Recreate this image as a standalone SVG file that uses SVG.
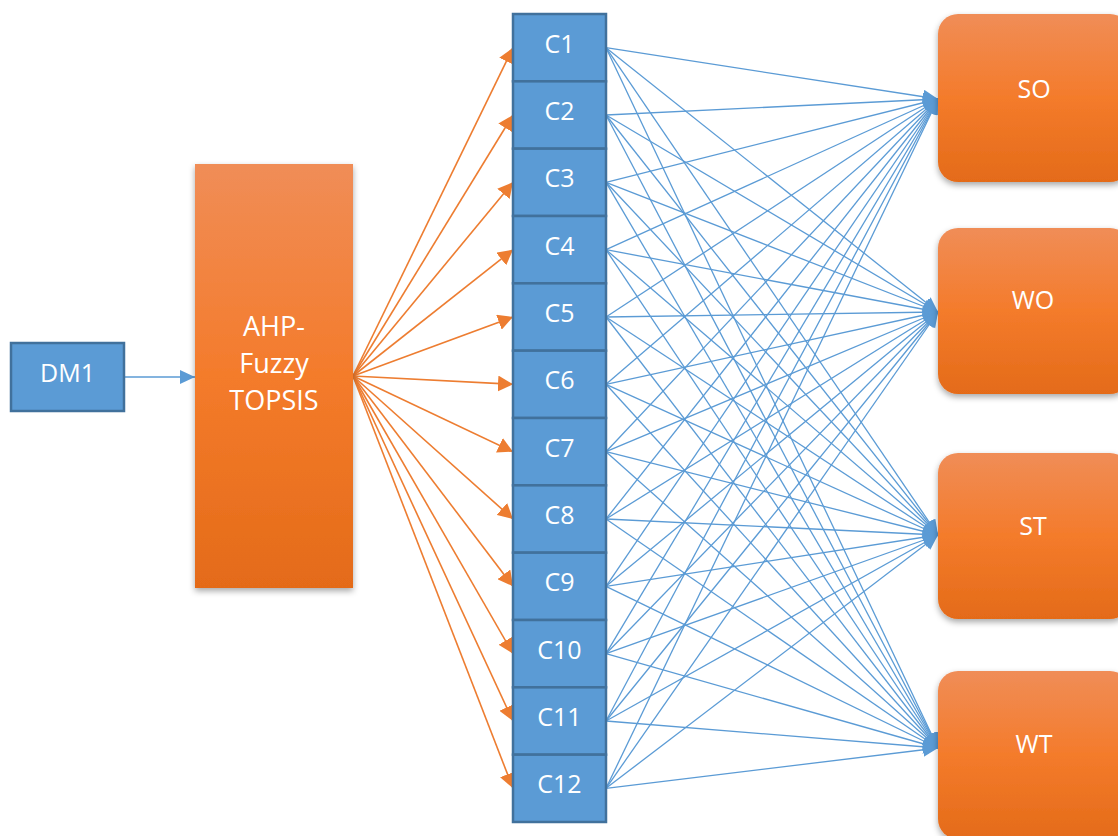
<svg xmlns="http://www.w3.org/2000/svg" width="1118" height="836" viewBox="0 0 1118 836">
  <style>
    .lbl { font-family: "Open Sans", "Liberation Sans", sans-serif; fill: #ffffff; text-anchor: middle; }
    .c24 { font-size: 25px; }
    .c25 { font-size: 27px; }
    .cell { fill: #5B9BD5; stroke: #41719C; stroke-width: 2.5; }
    .dm { fill: #5B9BD5; stroke: #41719C; stroke-width: 2.5; }
    .org { stroke: #ED7D31; stroke-width: 1.6; fill: none; marker-end: url(#headOrange); }
    .blu { stroke: #5B9BD5; stroke-width: 1.3; fill: none; marker-end: url(#headBlue); }
  </style>
  <defs>
    <linearGradient id="gradOrange" x1="0" y1="0" x2="0" y2="1">
      <stop offset="0" stop-color="#F08D57"/>
      <stop offset="0.5" stop-color="#F47B2B"/>
      <stop offset="1" stop-color="#E46B19"/>
    </linearGradient>
    <filter id="shadow" x="-20%" y="-20%" width="140%" height="140%">
      <feDropShadow dx="0" dy="3" stdDeviation="3" flood-color="#000000" flood-opacity="0.35"/>
    </filter>
    <marker id="headOrange" markerUnits="userSpaceOnUse" markerWidth="16" markerHeight="16" refX="15" refY="8" orient="auto">
      <path d="M0,0 L15,8 L0,16 Z" fill="#ED7D31"/>
    </marker>
    <marker id="headBlue" markerUnits="userSpaceOnUse" markerWidth="16" markerHeight="16" refX="15" refY="7" orient="auto">
      <path d="M0,0 L15,7 L0,14 Z" fill="#5B9BD5"/>
    </marker>
  </defs>

  <rect width="1118" height="836" fill="#ffffff"/>

  <!-- connectors -->
  <g id="connectors">
    <line class="blu" x1="124" y1="377" x2="195" y2="377"/>

    <!-- method block to criteria -->
    <line class="org" x1="353" y1="376" x2="513" y2="47.7"/>
    <line class="org" x1="353" y1="376" x2="513" y2="115.0"/>
    <line class="org" x1="353" y1="376" x2="513" y2="182.3"/>
    <line class="org" x1="353" y1="376" x2="513" y2="249.7"/>
    <line class="org" x1="353" y1="376" x2="513" y2="317.0"/>
    <line class="org" x1="353" y1="376" x2="513" y2="384.3"/>
    <line class="org" x1="353" y1="376" x2="513" y2="451.7"/>
    <line class="org" x1="353" y1="376" x2="513" y2="519.0"/>
    <line class="org" x1="353" y1="376" x2="513" y2="586.3"/>
    <line class="org" x1="353" y1="376" x2="513" y2="653.7"/>
    <line class="org" x1="353" y1="376" x2="513" y2="721.0"/>
    <line class="org" x1="353" y1="376" x2="513" y2="788.3"/>

    <!-- criteria to strategies: SO -->
    <line class="blu" x1="606" y1="47.7" x2="938" y2="99"/>
    <line class="blu" x1="606" y1="115.0" x2="938" y2="99"/>
    <line class="blu" x1="606" y1="182.3" x2="938" y2="99"/>
    <line class="blu" x1="606" y1="249.7" x2="938" y2="99"/>
    <line class="blu" x1="606" y1="317.0" x2="938" y2="99"/>
    <line class="blu" x1="606" y1="384.3" x2="938" y2="99"/>
    <line class="blu" x1="606" y1="451.7" x2="938" y2="99"/>
    <line class="blu" x1="606" y1="519.0" x2="938" y2="99"/>
    <line class="blu" x1="606" y1="586.3" x2="938" y2="99"/>
    <line class="blu" x1="606" y1="653.7" x2="938" y2="99"/>
    <line class="blu" x1="606" y1="721.0" x2="938" y2="99"/>
    <line class="blu" x1="606" y1="788.3" x2="938" y2="99"/>

    <!-- WO -->
    <line class="blu" x1="606" y1="47.7" x2="938" y2="312"/>
    <line class="blu" x1="606" y1="115.0" x2="938" y2="312"/>
    <line class="blu" x1="606" y1="182.3" x2="938" y2="312"/>
    <line class="blu" x1="606" y1="249.7" x2="938" y2="312"/>
    <line class="blu" x1="606" y1="317.0" x2="938" y2="312"/>
    <line class="blu" x1="606" y1="384.3" x2="938" y2="312"/>
    <line class="blu" x1="606" y1="451.7" x2="938" y2="312"/>
    <line class="blu" x1="606" y1="519.0" x2="938" y2="312"/>
    <line class="blu" x1="606" y1="586.3" x2="938" y2="312"/>
    <line class="blu" x1="606" y1="653.7" x2="938" y2="312"/>
    <line class="blu" x1="606" y1="721.0" x2="938" y2="312"/>
    <line class="blu" x1="606" y1="788.3" x2="938" y2="312"/>

    <!-- ST -->
    <line class="blu" x1="606" y1="47.7" x2="938" y2="535"/>
    <line class="blu" x1="606" y1="115.0" x2="938" y2="535"/>
    <line class="blu" x1="606" y1="182.3" x2="938" y2="535"/>
    <line class="blu" x1="606" y1="249.7" x2="938" y2="535"/>
    <line class="blu" x1="606" y1="317.0" x2="938" y2="535"/>
    <line class="blu" x1="606" y1="384.3" x2="938" y2="535"/>
    <line class="blu" x1="606" y1="451.7" x2="938" y2="535"/>
    <line class="blu" x1="606" y1="519.0" x2="938" y2="535"/>
    <line class="blu" x1="606" y1="586.3" x2="938" y2="535"/>
    <line class="blu" x1="606" y1="653.7" x2="938" y2="535"/>
    <line class="blu" x1="606" y1="721.0" x2="938" y2="535"/>
    <line class="blu" x1="606" y1="788.3" x2="938" y2="535"/>

    <!-- WT -->
    <line class="blu" x1="606" y1="47.7" x2="938" y2="748"/>
    <line class="blu" x1="606" y1="115.0" x2="938" y2="748"/>
    <line class="blu" x1="606" y1="182.3" x2="938" y2="748"/>
    <line class="blu" x1="606" y1="249.7" x2="938" y2="748"/>
    <line class="blu" x1="606" y1="317.0" x2="938" y2="748"/>
    <line class="blu" x1="606" y1="384.3" x2="938" y2="748"/>
    <line class="blu" x1="606" y1="451.7" x2="938" y2="748"/>
    <line class="blu" x1="606" y1="519.0" x2="938" y2="748"/>
    <line class="blu" x1="606" y1="586.3" x2="938" y2="748"/>
    <line class="blu" x1="606" y1="653.7" x2="938" y2="748"/>
    <line class="blu" x1="606" y1="721.0" x2="938" y2="748"/>
    <line class="blu" x1="606" y1="788.3" x2="938" y2="748"/>
  </g>

  <!-- decision maker -->
  <g id="dm1">
    <rect class="dm" x="11" y="343" width="113" height="68"/>
    <text class="lbl c24" x="67.5" y="382">DM1</text>
  </g>

  <!-- method block -->
  <g id="ahp-fuzzy-topsis">
    <rect x="195" y="164" width="158" height="424" fill="url(#gradOrange)" filter="url(#shadow)"/>
    <text class="lbl c25" x="274" y="336">AHP-</text>
    <text class="lbl c25" x="274" y="373">Fuzzy</text>
    <text class="lbl c25" x="274" y="410">TOPSIS</text>
  </g>

  <!-- criteria column -->
  <g id="c1"><rect class="cell" x="513" y="14" width="93" height="67.33"/><text class="lbl c24" x="559.5" y="53">C1</text></g>
  <g id="c2"><rect class="cell" x="513" y="81.33" width="93" height="67.33"/><text class="lbl c24" x="559.5" y="120">C2</text></g>
  <g id="c3"><rect class="cell" x="513" y="148.67" width="93" height="67.33"/><text class="lbl c24" x="559.5" y="187.3">C3</text></g>
  <g id="c4"><rect class="cell" x="513" y="216" width="93" height="67.33"/><text class="lbl c24" x="559.5" y="254.7">C4</text></g>
  <g id="c5"><rect class="cell" x="513" y="283.33" width="93" height="67.33"/><text class="lbl c24" x="559.5" y="322">C5</text></g>
  <g id="c6"><rect class="cell" x="513" y="350.67" width="93" height="67.33"/><text class="lbl c24" x="559.5" y="389.3">C6</text></g>
  <g id="c7"><rect class="cell" x="513" y="418" width="93" height="67.33"/><text class="lbl c24" x="559.5" y="456.7">C7</text></g>
  <g id="c8"><rect class="cell" x="513" y="485.33" width="93" height="67.33"/><text class="lbl c24" x="559.5" y="524">C8</text></g>
  <g id="c9"><rect class="cell" x="513" y="552.67" width="93" height="67.33"/><text class="lbl c24" x="559.5" y="591.3">C9</text></g>
  <g id="c10"><rect class="cell" x="513" y="620" width="93" height="67.33"/><text class="lbl c24" x="559.5" y="658.7">C10</text></g>
  <g id="c11"><rect class="cell" x="513" y="687.33" width="93" height="67.33"/><text class="lbl c24" x="559.5" y="726">C11</text></g>
  <g id="c12"><rect class="cell" x="513" y="754.67" width="93" height="67.33"/><text class="lbl c24" x="559.5" y="793.3">C12</text></g>

  <!-- strategies -->
  <g id="so">
    <rect x="938" y="14" width="192" height="168" rx="20" ry="20" fill="url(#gradOrange)" filter="url(#shadow)"/>
    <text class="lbl c24" x="1034" y="98">SO</text>
  </g>
  <g id="wo">
    <rect x="938" y="228" width="192" height="166" rx="20" ry="20" fill="url(#gradOrange)" filter="url(#shadow)"/>
    <text class="lbl c24" x="1033" y="309">WO</text>
  </g>
  <g id="st">
    <rect x="938" y="453" width="192" height="166" rx="20" ry="20" fill="url(#gradOrange)" filter="url(#shadow)"/>
    <text class="lbl c24" x="1033" y="535">ST</text>
  </g>
  <g id="wt">
    <rect x="938" y="671" width="192" height="168" rx="20" ry="20" fill="url(#gradOrange)" filter="url(#shadow)"/>
    <text class="lbl c24" x="1034" y="753">WT</text>
  </g>
</svg>
